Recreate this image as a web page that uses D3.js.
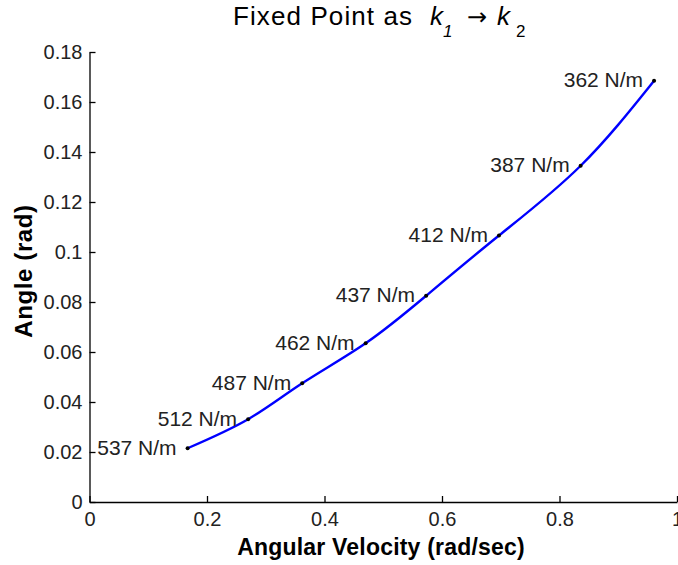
<!DOCTYPE html>
<html>
<head>
<meta charset="utf-8">
<script src="https://cdn.jsdelivr.net/npm/d3@7"></script>
<style>
  body { margin: 0; background: #fff; }
  text { font-family: Arial, "Liberation Sans", sans-serif; }
</style>
</head>
<body>
<div id="grafico"></div>
<script>
// dados
const rigidez = [537, 512, 487, 462, 437, 412, 387, 362]; // N/m
const velocidade = [0.167, 0.270, 0.362, 0.470, 0.573, 0.697, 0.836, 0.961]; // rad/sec
const angulo = [0.0215, 0.0331, 0.0475, 0.0635, 0.0825, 0.1066, 0.1345, 0.1685]; // rad
const ticks_x = [0, 0.2, 0.4, 0.6, 0.8, 1];
const ticks_y = [0, 0.02, 0.04, 0.06, 0.08, 0.1, 0.12, 0.14, 0.16, 0.18];

const largura = 678, altura = 565;
const margem = { superior: 52, inferior: 63, direita: 1, esquerda: 89.5 };

const dados = rigidez.map((k, i) => ({ k, x: velocidade[i], y: angulo[i] }));

const escala_x = d3.scaleLinear([0, 1], [margem.esquerda, largura - margem.direita]);
const escala_y = d3.scaleLinear([0, 0.18], [altura - margem.inferior, margem.superior]);

const svg = d3.select("#grafico").append("svg")
    .attr("width", largura)
    .attr("height", altura)
    .attr("viewBox", [0, 0, largura, altura]);

// EIXO X
svg.append("g")
    .attr("transform", `translate(0,${altura - margem.inferior})`)
    .call(d3.axisBottom(escala_x).tickValues(ticks_x).tickFormat(d3.format("")).tickSizeInner(-6).tickSizeOuter(0).tickPadding(10))
    .call(g => g.select(".domain").attr("stroke", "#000").attr("stroke-width", 1.3))
    .call(g => g.selectAll(".tick line").attr("stroke-width", 1.3))
    .call(g => g.selectAll("text").attr("font-size", 20).attr("fill", "#222"));

// EIXO Y
svg.append("g")
    .attr("transform", `translate(${margem.esquerda},0)`)
    .call(d3.axisLeft(escala_y).tickValues(ticks_y).tickFormat(d3.format("")).tickSizeInner(-6).tickSizeOuter(0).tickPadding(7))
    .call(g => g.select(".domain").attr("stroke", "#000").attr("stroke-width", 1.3))
    .call(g => g.selectAll(".tick line").attr("stroke-width", 1.3))
    .call(g => g.selectAll("text").attr("font-size", 20).attr("fill", "#222"));

// LINHA
const linha = d3.line()
    .x(d => escala_x(d.x))
    .y(d => escala_y(d.y))
    .curve(d3.curveNatural);

svg.append("path")
    .datum(dados)
    .attr("fill", "none")
    .attr("stroke", "#0000ff")
    .attr("stroke-width", 2.4)
    .attr("d", linha);

// MARCADORES
svg.append("g")
  .selectAll("circle")
  .data(dados)
  .join("circle")
    .attr("cx", d => escala_x(d.x))
    .attr("cy", d => escala_y(d.y))
    .attr("r", 2)
    .attr("fill", "#000");

// ROTULOS
svg.append("g")
    .attr("font-size", 21)
    .attr("fill", "#222")
    .attr("text-anchor", "end")
  .selectAll("text")
  .data(dados)
  .join("text")
    .attr("x", d => escala_x(d.x) - 11)
    .attr("y", d => escala_y(d.y))
    .attr("dy", "0.3em")
    .text(d => `${d.k} N/m`);

// TITULO
const titulo = svg.append("text")
    .attr("y", 25)
    .attr("font-size", 26)
    .attr("fill", "#000");
titulo.append("tspan").attr("x", 233).attr("letter-spacing", 1.1).text("Fixed Point as");
titulo.append("tspan").attr("x", 430).attr("font-style", "italic").text("k");
titulo.append("tspan").attr("x", 443).attr("font-style", "italic").attr("font-size", 17).attr("dy", 12).text("1");
titulo.append("tspan").attr("x", 467).attr("dy", -12).attr("font-family", "DejaVu Sans").attr("font-size", 24).text("\u2192");
titulo.append("tspan").attr("x", 497).attr("font-style", "italic").text("k");
titulo.append("tspan").attr("x", 516).attr("font-size", 17).attr("dy", 12).text("2");

// ROTULOS DOS EIXOS
svg.append("text")
    .attr("x", 381)
    .attr("y", 555)
    .attr("text-anchor", "middle")
    .attr("font-size", 23)
    .attr("font-weight", "bold")
    .attr("letter-spacing", 0.2)
    .attr("fill", "#000")
    .text("Angular Velocity (rad/sec)");

svg.append("text")
    .attr("transform", `translate(32,271) rotate(-90)`)
    .attr("text-anchor", "middle")
    .attr("font-size", 24)
    .attr("font-weight", "bold")
    .attr("letter-spacing", 0.6)
    .attr("fill", "#000")
    .text("Angle (rad)");
</script>
</body>
</html>
